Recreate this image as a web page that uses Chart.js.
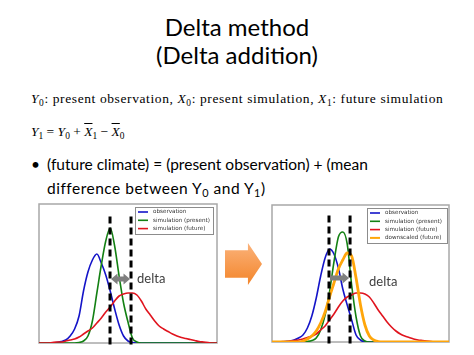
<!DOCTYPE html>
<html>
<head>
<meta charset="utf-8">
<script src="https://cdn.jsdelivr.net/npm/chart.js@4.4.1/dist/chart.umd.min.js"></script>
<style>
  html, body { margin: 0; padding: 0; background: #fff; }
  body { width: 474px; height: 355px; position: relative; overflow: hidden; font-family: Lato, sans-serif; color: #000; }
  .t { position: absolute; white-space: nowrap; }
  #title { left: 0; width: 474px; top: 13px; text-align: center; font-size: 24px; line-height: 28px; }
  .tex { left: 31px; font-family: "Liberation Serif", serif; font-size: 13.5px; line-height: 15px; }
  .tex i { font-style: italic; }
  .bar { text-decoration: overline; }
  sub { font-size: 70%; vertical-align: -0.3em; line-height: 0; }
  .bul { font-size: 15.5px; line-height: 24px; top: 152px; }
  #arrow { position: absolute; left: 225px; top: 243px; width: 37px; height: 42px;
    clip-path: polygon(0 17%, 62% 17%, 62% 0, 100% 50%, 62% 100%, 62% 83%, 0 83%);
    background: linear-gradient(#fbb27a, #f3852a); }
  canvas { position: absolute; }
</style>
</head>
<body>
<div id="title" class="t">Delta method<br>(Delta addition)</div>
<div class="t tex" style="top:91px;letter-spacing:0.6px"><i>Y</i><sub>0</sub>: present observation, <i>X</i><sub>0</sub>: present simulation, <i>X</i><sub>1</sub>: future simulation</div>
<div class="t tex" style="top:124px"><i>Y</i><sub>1</sub> = <i>Y</i><sub>0</sub> + <i class="bar">X</i><sub>1</sub> &minus; <i class="bar">X</i><sub>0</sub></div>
<div class="t bul" style="left:31px">&bull;</div>
<div class="t bul" style="left:47px">(future climate) = (present observation) + (mean<br><span style="letter-spacing:0.5px">difference between Y<sub>0</sub> and Y<sub>1</sub>)</span></div>
<div id="arrow"></div>
<canvas id="leftChart" width="186" height="147" style="left:35px;top:200px"></canvas>
<canvas id="rightChart" width="185" height="145" style="left:268px;top:201px"></canvas>

<script>
// x positions shared by every curve
const xGrid = [0, 2.5, 5, 7.5, 10, 12.5, 15, 17.5, 20, 22.5, 25, 27.5, 30, 32.5, 35, 37.5, 40, 42.5, 45, 47.5,
  50, 52.5, 55, 57.5, 60, 62.5, 65, 67.5, 70, 72.5, 75, 77.5, 80, 82.5, 85, 87.5, 90, 92.5, 95, 97.5, 100];

const seriesNames = ["observation", "simulation (present)", "simulation (future)", "downscaled (future)"];

// left panel
const obsLeft = [0, 0, 0, 0, 0.005, 0.015, 0.03, 0.07, 0.14, 0.27, 0.52, 0.71, 0.83, 0.89, 0.80, 0.68, 0.52, 0.34, 0.18, 0.07,
  0.02, 0.005, 0, 0, 0, 0, 0, 0, 0, 0, 0, 0, 0, 0, 0, 0, 0, 0, 0, 0, 0];
const simPresentLeft = [0, 0, 0, 0, 0, 0, 0, 0, 0, 0.005, 0.02, 0.07, 0.22, 0.50, 0.78, 1.02, 1.15, 0.97, 0.67, 0.40,
  0.21, 0.05, 0.01, 0, 0, 0, 0, 0, 0, 0, 0, 0, 0, 0, 0, 0, 0, 0, 0, 0, 0];
const simFutureLeft = [0, 0, 0, 0.005, 0.01, 0.01, 0.02, 0.03, 0.04, 0.06, 0.09, 0.12, 0.15, 0.20, 0.25, 0.31, 0.36, 0.42, 0.47, 0.49,
  0.50, 0.50, 0.48, 0.42, 0.34, 0.28, 0.22, 0.17, 0.14, 0.115, 0.09, 0.07, 0.055, 0.045, 0.035, 0.025, 0.015, 0.01, 0.005, 0, 0];
const deltaLeft = [39.9, 51.7];

// right panel
const obsRight = [0, 0, 0, 0.005, 0.01, 0.02, 0.04, 0.07, 0.14, 0.26, 0.44, 0.66, 0.84, 0.93, 0.88, 0.74, 0.53, 0.37, 0.22, 0.07,
  0.02, 0, 0, 0, 0, 0, 0, 0, 0, 0, 0, 0, 0, 0, 0, 0, 0, 0, 0, 0, 0];
const simPresentRight = [0, 0, 0, 0, 0, 0, 0, 0, 0.005, 0.015, 0.04, 0.12, 0.27, 0.50, 0.80, 1.05, 1.10, 0.98, 0.57, 0.25,
  0.06, 0.01, 0, 0, 0, 0, 0, 0, 0, 0, 0, 0, 0, 0, 0, 0, 0, 0, 0, 0, 0];
const simFutureRight = [0, 0, 0.003, 0.005, 0.01, 0.015, 0.02, 0.03, 0.045, 0.06, 0.08, 0.12, 0.16, 0.22, 0.28, 0.35, 0.41, 0.45, 0.47, 0.49,
  0.49, 0.48, 0.45, 0.39, 0.32, 0.26, 0.20, 0.15, 0.11, 0.08, 0.06, 0.045, 0.03, 0.02, 0.015, 0.01, 0.005, 0, 0, 0, 0];
const downscaledRight = [0, 0, 0, 0, 0, 0, 0, 0.01, 0.03, 0.06, 0.11, 0.19, 0.30, 0.45, 0.59, 0.73, 0.82, 0.89, 0.86, 0.64,
  0.37, 0.17, 0.06, 0.02, 0.005, 0, 0, 0, 0, 0, 0, 0, 0, 0, 0, 0, 0, 0, 0, 0, 0];
const deltaRight = [32.2, 44.1];

const dashTop = 1.28;
const colors = ["#1414c8", "#138013", "#e0141e", "#ffa60a"];

function curve(label, values, color, width, order) {
  return {
    label: label,
    data: values.map((v, i) => ({ x: xGrid[i], y: v })),
    borderColor: color,
    borderWidth: width,
    pointRadius: 0,
    cubicInterpolationMode: "monotone",
    fill: false,
    order: order
  };
}

function dashLine(xv) {
  return {
    label: "",
    data: [{ x: xv, y: -0.015 }, { x: xv, y: dashTop }],
    borderColor: "#000",
    borderWidth: 3,
    borderDash: [7, 4],
    pointRadius: 0,
    clip: 6,
    order: 0
  };
}

// frame, boxed legend, delta arrow and label
const slidePlugin = {
  id: "slide",
  beforeDatasetsDraw(chart) {
    const a = chart.chartArea, ctx = chart.ctx;
    ctx.save();
    ctx.strokeStyle = "#a8a8a8";
    ctx.lineWidth = 1.5;
    ctx.strokeRect(a.left, a.top, a.right - a.left, a.bottom - a.top);
    ctx.restore();
  },
  afterDraw(chart, args, opts) {
    const a = chart.chartArea, ctx = chart.ctx;
    const xs = chart.scales.x, ys = chart.scales.y;
    ctx.save();

    // legend box
    const items = chart.data.datasets.filter(d => d.label);
    const lx = a.right - opts.legendRight - opts.legendW;
    const ly = a.top + opts.legendTop;
    ctx.fillStyle = "#fff";
    ctx.fillRect(lx, ly, opts.legendW, opts.legendH);
    ctx.strokeStyle = "#8c8c8c";
    ctx.lineWidth = 1;
    ctx.strokeRect(lx + 0.5, ly + 0.5, opts.legendW, opts.legendH);
    // size the legend text so the longest label spans the measured width
    ctx.font = '10px "DejaVu Sans", sans-serif';
    const fs = 10 * 57 / ctx.measureText("simulation (present)").width;
    ctx.font = fs.toFixed(2) + 'px "DejaVu Sans", sans-serif';
    ctx.textBaseline = "middle";
    items.forEach((d, i) => {
      const ry = ly + 5 + i * 8.3;
      ctx.strokeStyle = d.borderColor;
      ctx.lineWidth = Math.min(d.borderWidth, 2);
      ctx.beginPath();
      ctx.moveTo(lx + 3, ry);
      ctx.lineTo(lx + 13, ry);
      ctx.stroke();
      ctx.fillStyle = "#333";
      ctx.fillText(d.label, lx + 18, ry);
    });

    // delta arrow between the dashed lines
    const x1 = xs.getPixelForValue(opts.delta[0]) + 1;
    const x2 = xs.getPixelForValue(opts.delta[1]) - 1;
    const y = ys.getPixelForValue(opts.arrowY);
    const b = 2.5, h = 5.5, L = 6.5;
    ctx.fillStyle = "#7f7f7f";
    ctx.beginPath();
    if (opts.doubleHead) {
      ctx.moveTo(x1, y);
      ctx.lineTo(x1 + L, y - h);
      ctx.lineTo(x1 + L, y - b);
    } else {
      ctx.moveTo(x1, y - b);
    }
    ctx.lineTo(x2 - L, y - b);
    ctx.lineTo(x2 - L, y - h);
    ctx.lineTo(x2, y);
    ctx.lineTo(x2 - L, y + h);
    ctx.lineTo(x2 - L, y + b);
    if (opts.doubleHead) {
      ctx.lineTo(x1 + L, y + b);
      ctx.lineTo(x1 + L, y + h);
    } else {
      ctx.lineTo(x1, y + b);
    }
    ctx.closePath();
    ctx.fill();

    ctx.font = "13px Lato";
    ctx.fillStyle = "#404040";
    ctx.textBaseline = "middle";
    ctx.fillText("delta", x2 + opts.textDx, ys.getPixelForValue(opts.textY));
    ctx.restore();
  }
};

function makeChart(id, datasets, yMax, slideOpts) {
  return new Chart(document.getElementById(id), {
    type: "line",
    data: { datasets: datasets },
    options: {
      responsive: false,
      animation: false,
      devicePixelRatio: 1,
      layout: { padding: 4 },
      scales: {
        x: { type: "linear", min: 0, max: 100, display: false },
        y: { min: 0, max: yMax, display: false }
      },
      plugins: {
        legend: { display: false },
        tooltip: { enabled: false },
        slide: slideOpts
      }
    },
    plugins: [slidePlugin]
  });
}

makeChart("leftChart", [
  curve(seriesNames[0], obsLeft, colors[0], 1.6, 4),
  curve(seriesNames[1], simPresentLeft, colors[1], 1.6, 3),
  curve(seriesNames[2], simFutureLeft, colors[2], 1.6, 2),
  dashLine(deltaLeft[0]),
  dashLine(deltaLeft[1])
], 1.39, { legendRight: 4, legendTop: 3, legendW: 78, legendH: 27, delta: deltaLeft, doubleHead: true, arrowY: 0.64, textDx: 7, textY: 0.64 });

makeChart("rightChart", [
  curve(seriesNames[0], obsRight, colors[0], 1.6, 4),
  curve(seriesNames[1], simPresentRight, colors[1], 1.6, 3),
  curve(seriesNames[2], simFutureRight, colors[2], 1.6, 2),
  curve(seriesNames[3], downscaledRight, colors[3], 2.8, 1),
  dashLine(deltaRight[0]),
  dashLine(deltaRight[1])
], 1.37, { legendRight: 2, legendTop: 3, legendW: 80, legendH: 35, delta: deltaRight, doubleHead: false, arrowY: 0.64, textDx: 20, textY: 0.60 });
</script>
</body>
</html>
